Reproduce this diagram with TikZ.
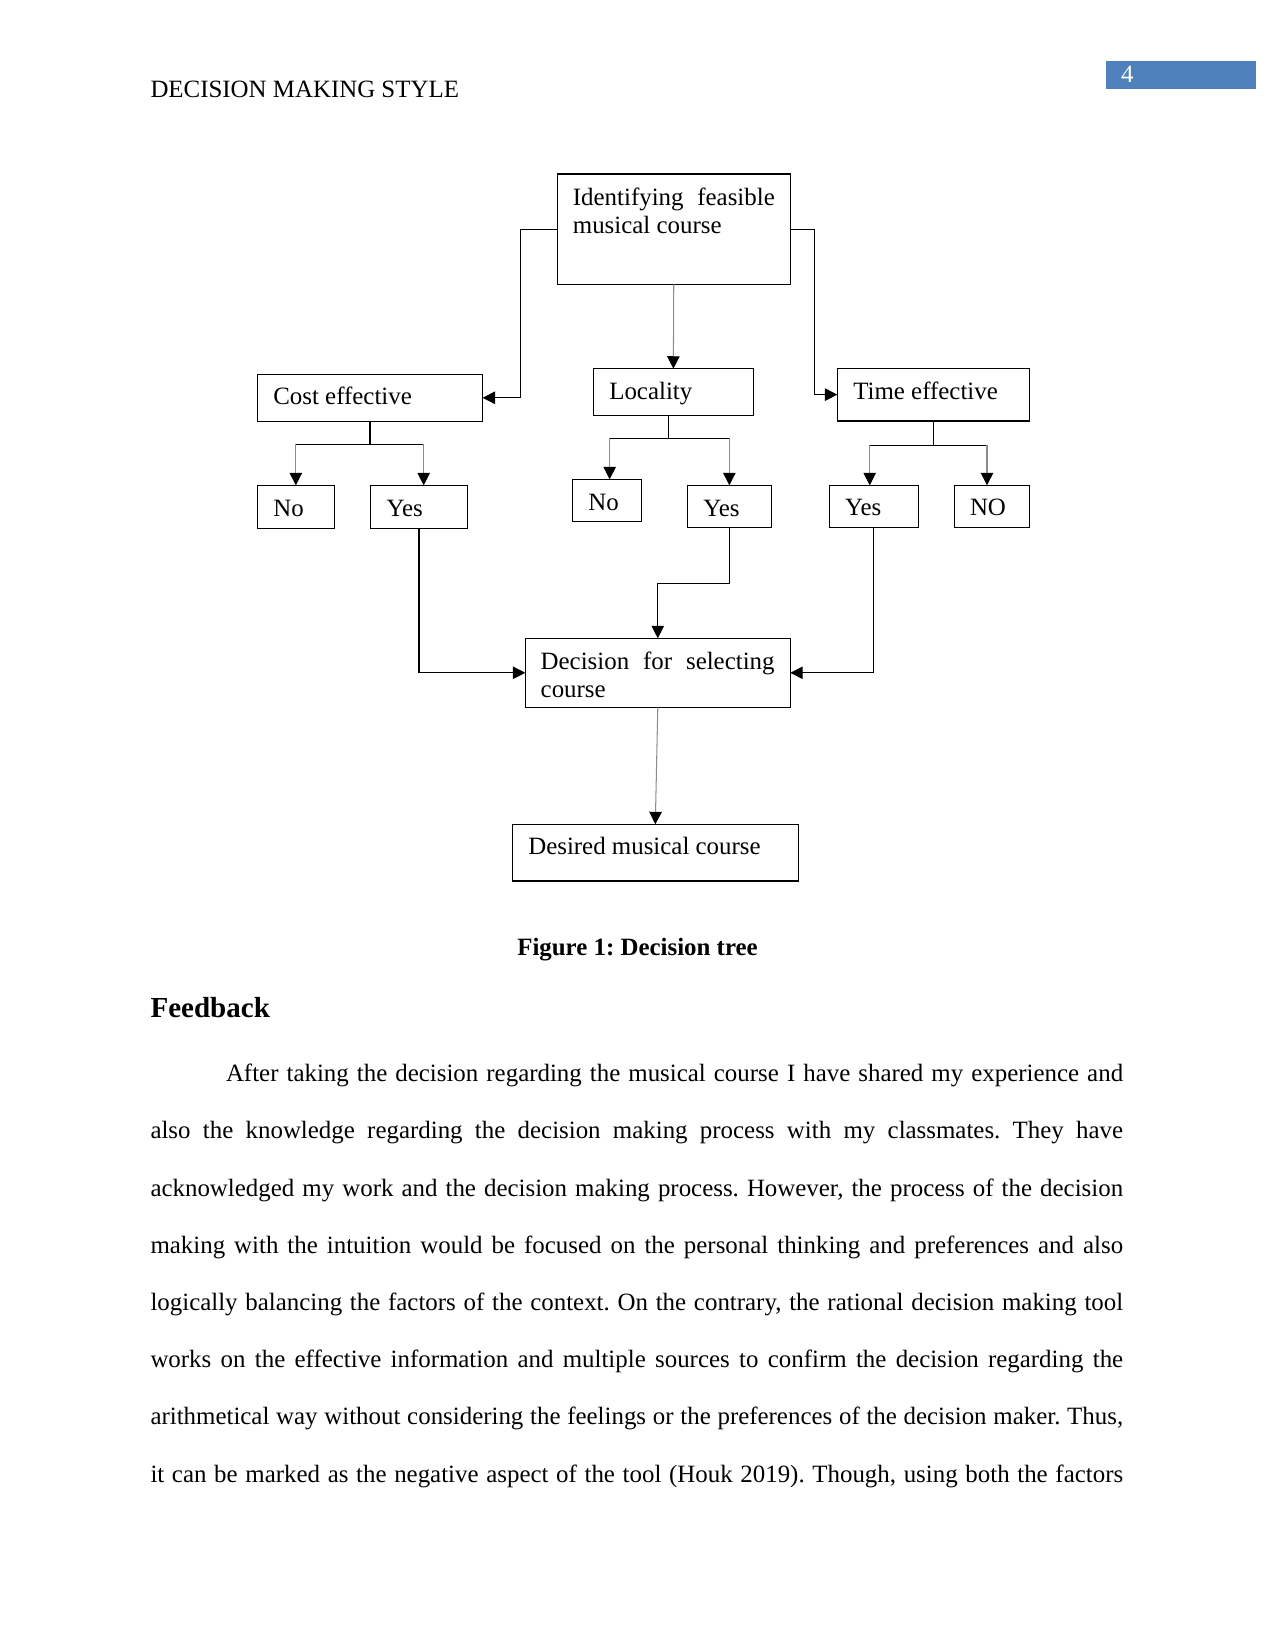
\documentclass[tikz,border=0pt]{standalone}
\usepackage{fontspec}
\setmainfont{Liberation Serif}
\usetikzlibrary{arrows.meta,calc}
\definecolor{pageblue}{RGB}{79,129,189}
\frenchspacing
\tikzset{
  box/.style={draw, line width=0.6pt, inner sep=0pt, outer sep=0pt},
  wd/.style={minimum width=#1*0.4818pt},
  ht/.style={minimum height=#1*0.4818pt},
  txt/.style={anchor=base west, inner sep=0pt, outer sep=0pt},
  ln/.style={line width=0.6pt},
  arr/.style={line width=0.6pt, -{Triangle[length=6pt,width=6pt]}},
  arrg/.style={line width=0.5pt, black!45, -{Triangle[length=6pt,width=6pt,color=black]}},
}
\begin{document}
\frenchspacing
\begin{tikzpicture}[x=0.0066667in, y=-0.0066667in, font=\fontsize{12}{14.4}\selectfont]
\useasboundingbox (0,0) rectangle (1275,1651);

% header
\node[txt] (hdr) at (150.5,98) {DECISION MAKING STYLE};
\node[fill=pageblue, inner sep=0pt, wd=150.6, ht=27.7] (pg) at (1181,74.85) {};
\node[txt, text=white] (pgnum) at (1121,82.3) {4};

% boxes
\node[box, wd=233.1, ht=110.3] (top) at (673.75,229.15) {};
\node[box, wd=225.4, ht=47] (cost) at (369.9,397.8) {};
\node[box, wd=160.3, ht=46.6] (loc) at (673.35,392) {};
\node[box, wd=192, ht=52.7] (time) at (933.3,394.65) {};
\node[box, wd=77.3, ht=43] (cno) at (295.85,506.8) {};
\node[box, wd=97.2, ht=43] (cyes) at (419.1,506.8) {};
\node[box, wd=69.1, ht=42] (lno) at (606.95,500.3) {};
\node[box, wd=84.1, ht=42] (lyes) at (729.35,506.3) {};
\node[box, wd=89, ht=42] (tyes) at (873.8,506.3) {};
\node[box, wd=75, ht=42] (tno) at (991.8,506.3) {};
\node[box, wd=265, ht=69] (dec) at (657.8,672.8) {};
\node[box, wd=286, ht=56.7] (des) at (655.3,852.65) {};

% box texts
\node[txt] (topa) at (572.9,205.7) {\makebox[97.3pt][s]{Identifying feasible}};
\node[txt] (topb) at (572.9,234) {musical course};
\node[txt] (costt) at (273.3,405) {Cost effective};
\node[txt] (loct) at (609.3,399.3) {Locality};
\node[txt] (timet) at (853.3,399.3) {Time effective};
\node[txt] (cnot) at (273.3,516) {No};
\node[txt] (cyest) at (386.6,516) {Yes};
\node[txt] (lnot) at (588.3,510) {No};
\node[txt] (lyest) at (703.3,516) {Yes};
\node[txt] (tyest) at (845,515.7) {Yes};
\node[txt] (tnot) at (970,515.7) {NO};
\node[txt] (deca) at (540.7,669) {\makebox[112.7pt][s]{Decision for selecting}};
\node[txt] (decb) at (540.7,697.7) {course};
\node[txt] (dest) at (528.3,854) {Desired musical course};

% connectors from top
\draw[arr] (top.west) -- ++(-36.7,0) |- (cost.east);
\draw[arr] (top.east) -- ++(24,0) |- (time.west);
\draw[arrg] (top.south) -- (loc.north);

% cost branch
\draw[ln] (cost.south) -- ++(0,23.2) coordinate (cj);
\coordinate (cya) at ($(cyes.north)+(4.6,0)$);
\draw[ln] (cno.north |- cj) -- (cya |- cj);
\draw[arrg] (cno.north |- cj) -- (cno.north);
\draw[arrg] (cya |- cj) -- (cya);

% locality branch
\coordinate (ls) at ($(loc.south)+(-4.8,0)$);
\draw[ln] (ls) -- ++(0,23) coordinate (lj);
\coordinate (lna) at ($(lno.north)+(2.7,0)$);
\draw[ln] (lna |- lj) -- (lyes.north |- lj);
\draw[arrg] (lna |- lj) -- (lna);
\draw[arrg] (lyes.north |- lj) -- (lyes.north);

% time branch
\draw[ln] (time.south) -- ++(0,24.3) coordinate (tj);
\coordinate (tya) at ($(tyes.north)+(-4.1,0)$);
\coordinate (tna) at ($(tno.north)+(-4.8,0)$);
\draw[ln] (tya |- tj) -- (tna |- tj);
\draw[arrg] (tya |- tj) -- (tya);
\draw[arrg] (tna |- tj) -- (tna);

% to decision
\draw[arr] (cyes.south) |- (dec.west);
\draw[arr] (lyes.south) -- ++(0,56) -| (dec.north);
\draw[arr] (tyes.south) |- (dec.east);
\draw[arrg] (dec.south) -- (des.north);

% caption and text
\node[anchor=base, inner sep=0pt, font=\fontsize{12}{14.4}\selectfont\bfseries] (cap) at (637.5,955) {Figure 1: Decision tree};
\node[txt, font=\fontsize{14}{16.8}\selectfont\bfseries] (fb) at (150.5,1017.5) {Feedback};

\node[txt] (p1) at (226,1081.7) {\makebox[432.3pt][s]{After taking the decision regarding the musical course I have shared my experience and}};
\node[txt] (p2) at (150.5,1138.9) {\makebox[468.7pt][s]{also the knowledge regarding the decision making process with my classmates. They have}};
\node[txt] (p3) at (150.5,1196.1) {\makebox[468.7pt][s]{acknowledged my work and the decision making process. However, the process of the decision}};
\node[txt] (p4) at (150.5,1253.3) {\makebox[468.7pt][s]{making with the intuition would be focused on the personal thinking and preferences and also}};
\node[txt] (p5) at (150.5,1310.5) {\makebox[468.7pt][s]{logically balancing the factors of the context. On the contrary, the rational decision making tool}};
\node[txt] (p6) at (150.5,1367.7) {\makebox[468.7pt][s]{works on the effective information and multiple sources to confirm the decision regarding the}};
\node[txt] (p7) at (150.5,1424.9) {\makebox[468.7pt][s]{arithmetical way without considering the feelings or the preferences of the decision maker. Thus,}};
\node[txt] (p8) at (150.5,1482.1) {\makebox[468.7pt][s]{it can be marked as the negative aspect of the tool (Houk 2019). Though, using both the factors}};
\end{tikzpicture}
\end{document}
